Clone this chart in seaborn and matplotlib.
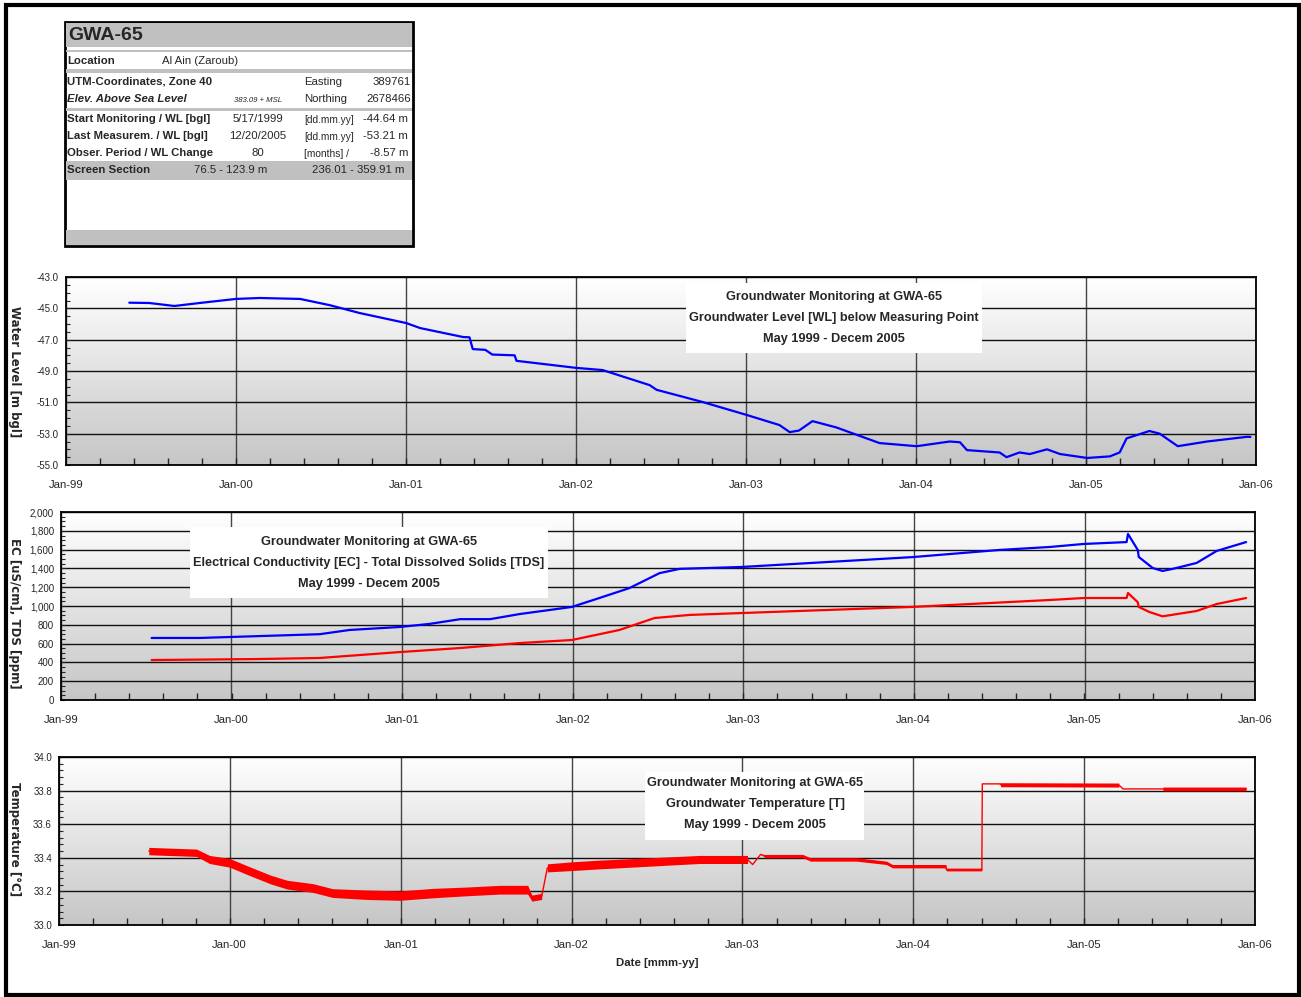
import numpy as np
import pandas as pd
import seaborn as sns
import matplotlib.pyplot as plt
import matplotlib.dates as mdates
from matplotlib.patches import Rectangle
from matplotlib.colors import LinearSegmentedColormap
from matplotlib.ticker import MultipleLocator, FixedLocator, FuncFormatter

# ---- data -------------------------------------------------------------
# water level [m bgl]
wl_dates = ['1999-05-17', '1999-06-29', '1999-08-22', '1999-10-15', '2000-01-01',
            '2000-02-21', '2000-05-18', '2000-07-21', '2000-09-23', '2001-01-01',
            '2001-01-31', '2001-05-03', '2001-05-17', '2001-05-24', '2001-06-20',
            '2001-07-05', '2001-08-22', '2001-08-26', '2002-01-01', '2002-02-27',
            '2002-06-08', '2002-06-23', '2002-09-30', '2003-01-02', '2003-03-14',
            '2003-04-05', '2003-04-25', '2003-05-24', '2003-07-14', '2003-10-15',
            '2004-01-03', '2004-03-14', '2004-04-05', '2004-04-20', '2004-06-29',
            '2004-07-14', '2004-08-11', '2004-09-02', '2004-10-09', '2004-11-06',
            '2005-01-03', '2005-02-21', '2005-03-14', '2005-03-29', '2005-05-17',
            '2005-06-08', '2005-07-17', '2005-09-18', '2005-12-13', '2005-12-20']
wl_values = [-44.64, -44.66, -44.85, -44.66, -44.40,
             -44.34, -44.40, -44.80, -45.30, -45.94,
             -46.26, -46.83, -46.85, -47.60, -47.65,
             -47.95, -48.00, -48.35, -48.80, -48.94,
             -49.90, -50.20, -50.98, -51.80, -52.45,
             -52.90, -52.80, -52.20, -52.60, -53.60,
             -53.80, -53.50, -53.55, -54.05, -54.20,
             -54.50, -54.20, -54.30, -54.00, -54.30,
             -54.55, -54.45, -54.20, -53.30, -52.83,
             -53.00, -53.80, -53.50, -53.20, -53.21]

# electrical conductivity [uS/cm]
ec_dates = ['1999-07-14', '1999-10-25', '2000-03-01', '2000-07-08', '2000-09-10',
            '2000-12-27', '2001-03-01', '2001-05-05', '2001-07-08', '2001-09-10',
            '2001-11-13', '2001-12-30', '2002-02-27', '2002-05-02', '2002-07-06',
            '2002-08-18', '2002-12-28', '2003-12-29', '2004-07-02', '2004-10-19',
            '2004-12-30', '2005-04-01', '2005-04-04', '2005-04-25', '2005-04-27',
            '2005-05-27', '2005-06-17', '2005-07-08', '2005-08-29', '2005-10-11',
            '2005-12-13']
ec_values = [660, 660, 680, 700, 745,
             777, 810, 860, 860, 915,
             958, 990, 1085, 1190, 1350,
             1395, 1415, 1520, 1596, 1628,
             1660, 1680, 1766, 1596, 1522,
             1404, 1373, 1394, 1458, 1586,
             1680]

# total dissolved solids [ppm]
tds_dates = ['1999-07-14', '2000-03-01', '2000-07-08', '2000-12-27', '2001-05-05',
             '2001-09-10', '2001-12-30', '2002-04-11', '2002-06-25', '2002-09-08',
             '2002-12-28', '2003-12-29', '2004-10-19', '2004-12-30', '2005-04-01',
             '2005-04-04', '2005-04-25', '2005-04-27', '2005-05-20', '2005-06-17',
             '2005-08-29', '2005-10-11', '2005-12-13']
tds_values = [425, 436, 447, 510, 553,
              606, 638, 745, 872, 905,
              925, 990, 1064, 1085, 1085,
              1138, 1040, 990, 936, 890,
              947, 1021, 1085]

# temperature [°C] and half-width of the logger scatter
t_dates = ['1999-07-12', '1999-10-22', '1999-11-19', '2000-01-01', '2000-02-13',
           '2000-03-29', '2000-05-03', '2000-06-27', '2000-08-08', '2000-10-20',
           '2000-12-30', '2001-03-11', '2001-05-22', '2001-07-31', '2001-09-29',
           '2001-10-08', '2001-10-29', '2001-10-29', '2001-11-10', '2001-11-10',
           '2002-01-01', '2002-03-01', '2002-10-01', '2003-01-12', '2003-01-12',
           '2003-01-23', '2003-02-09', '2003-02-20', '2003-05-10', '2003-05-27',
           '2003-09-02', '2003-11-05', '2003-11-18', '2004-03-11', '2004-03-12',
           '2004-05-27', '2004-05-27', '2004-05-28', '2004-07-06', '2004-07-06',
           '2005-03-16', '2005-03-16', '2005-03-25', '2005-06-18', '2005-06-18',
           '2005-12-13']
t_values = [33.44, 33.43, 33.39, 33.37, 33.32,
            33.27, 33.24, 33.22, 33.19, 33.18,
            33.175, 33.19, 33.20, 33.21, 33.21,
            33.16, 33.17, 33.17, 33.34, 33.34,
            33.35, 33.36, 33.39, 33.39, 33.39,
            33.36, 33.42, 33.41, 33.41, 33.39,
            33.39, 33.37, 33.35, 33.35, 33.33,
            33.33, 33.33, 33.84, 33.84, 33.835,
            33.833, 33.833, 33.81, 33.81, 33.81,
            33.81]
t_spread = [0.022, 0.022, 0.024, 0.026, 0.026,
            0.026, 0.026, 0.026, 0.026, 0.028,
            0.028, 0.028, 0.026, 0.026, 0.026,
            0.018, 0.018, 0.0, 0.0, 0.024,
            0.026, 0.026, 0.024, 0.024, 0.0,
            0.0, 0.0, 0.01, 0.01, 0.01,
            0.01, 0.01, 0.01, 0.01, 0.008,
            0.008, 0.0, 0.0, 0.0, 0.012,
            0.012, 0.0, 0.0, 0.0, 0.011,
            0.011]

year_ticks = pd.date_range('1999-01-01', '2006-01-01', freq='YS')
year_labels = [d.strftime('%b-%y') for d in year_ticks]

wl = pd.DataFrame({'date': pd.to_datetime(wl_dates), 'wl': wl_values})
ec = pd.DataFrame({'date': pd.to_datetime(ec_dates), 'ec': ec_values})
tds = pd.DataFrame({'date': pd.to_datetime(tds_dates), 'tds': tds_values})
temp = pd.DataFrame({'date': pd.to_datetime(t_dates), 't': t_values, 's': t_spread})

# ---- style ---------------------------------------------------------------
sns.set_style('white')
plt.rcParams['font.family'] = ['Liberation Sans', 'DejaVu Sans']
plt.rcParams['axes.linewidth'] = 1.3

W, H = 1301, 997
fig = plt.figure(figsize=(W / 100, H / 100), dpi=100)

grad = LinearSegmentedColormap.from_list('bg', ['#c6c6c6', '#ffffff'])


def ftext(x, y, s, **kw):
    fig.text(x / W, 1 - y / H, s, **kw)


def frect(x0, y0, x1, y1, **kw):
    fig.add_artist(Rectangle((x0 / W, 1 - y1 / H), (x1 - x0) / W, (y1 - y0) / H,
                             transform=fig.transFigure, **kw))


def make_axes(left, top, right, bottom, ylim, major, minor, fmt):
    ax = fig.add_axes([left / W, 1 - bottom / H, (right - left) / W, (bottom - top) / H])
    ax.imshow(np.linspace(0, 1, 256).reshape(-1, 1), cmap=grad, aspect='auto',
              extent=(0, 1, 0, 1), transform=ax.transAxes, zorder=0, origin='lower')
    ax.set_xlim(year_ticks[0], year_ticks[-1])
    ax.set_ylim(*ylim)
    ax.xaxis.set_major_locator(FixedLocator(mdates.date2num(year_ticks)))
    ax.set_xticklabels(year_labels)
    x0, x1 = mdates.date2num(year_ticks[[0, -1]])
    ax.xaxis.set_minor_locator(FixedLocator(np.linspace(x0, x1, 36)))
    ax.yaxis.set_major_locator(FixedLocator(np.arange(ylim[0], ylim[1] + major / 2, major)))
    ax.yaxis.set_minor_locator(MultipleLocator(minor))
    ax.yaxis.set_major_formatter(FuncFormatter(fmt))
    ax.grid(axis='y', which='major', color='#111111', lw=1.0)
    ax.grid(axis='x', which='major', color='#444444', lw=1.0)
    ax.tick_params(axis='x', which='both', direction='in', length=5, width=1,
                   labelsize=8.2, pad=11, bottom=True)
    ax.tick_params(axis='y', which='both', direction='in', length=3, width=0.8,
                   labelsize=7, pad=5, left=True)
    ax.tick_params(axis='x', which='major', length=0)
    for sp in ax.spines.values():
        sp.set_color('black')
    return ax


# ---- panel 1: water level ---------------------------------------------
ax1 = make_axes(66, 277, 1256, 465, (-55, -43), 2, 0.5, lambda v, p: f'{v:.1f}')
sns.lineplot(data=wl, x='date', y='wl', ax=ax1, color='#0000ff', lw=1.6,
             estimator=None, sort=False, zorder=3)
ax1.set_xlabel('')
ax1.set_ylabel('')

# ---- panel 2: EC / TDS --------------------------------------------------
ax2 = make_axes(61, 512, 1255, 700, (0, 2000), 200, 50, lambda v, p: f'{v:,.0f}')
sns.lineplot(data=ec, x='date', y='ec', ax=ax2, color='#0000ff', lw=1.6,
             estimator=None, sort=False, zorder=3)
sns.lineplot(data=tds, x='date', y='tds', ax=ax2, color='#ff0000', lw=1.6,
             estimator=None, sort=False, zorder=3)
ax2.set_xlabel('')
ax2.set_ylabel('')

# ---- panel 3: temperature -----------------------------------------------
ax3 = make_axes(59, 757, 1255, 925, (33.0, 34.0), 0.2, 0.04, lambda v, p: f'{v:.1f}')
ax3.fill_between(temp['date'], temp['t'] - temp['s'], temp['t'] + temp['s'],
                 color='#ff0000', lw=0, zorder=3)
sns.lineplot(data=temp, x='date', y='t', ax=ax3, color='#ff0000', lw=1.0,
             estimator=None, sort=False, zorder=3)
ax3.set_xlabel('')
ax3.set_ylabel('')

# ---- y axis titles --------------------------------------------------------
ylab_kw = dict(rotation=270, ha='center', va='center', fontsize=8.5,
               fontweight='bold', family='DejaVu Sans')
ftext(14, 372, 'Water Level [m bgl]', **ylab_kw)
ftext(14, 613, 'EC [uS/cm], TDS [ppm]', **ylab_kw)
ftext(14, 839, 'Temperature [°C]', **ylab_kw)
ftext(657, 963, 'Date [mmm-yy]', ha='center', va='center', fontsize=8.2,
      fontweight='bold')

# ---- chart title boxes ----------------------------------------------------
box_kw = dict(ha='center', va='center', fontsize=9.2, fontweight='bold')
frect(686, 283, 982, 353, fc='white', ec='none', zorder=5)
for yy, s in zip([297, 318, 339], ['Groundwater Monitoring at GWA-65',
                                   'Groundwater Level [WL] below Measuring Point',
                                   'May 1999 - Decem 2005']):
    ftext(834, yy, s, zorder=6, **box_kw)

frect(190, 527, 548, 598, fc='white', ec='none', zorder=5)
for yy, s in zip([542, 563, 584], ['Groundwater Monitoring at GWA-65',
                                   'Electrical Conductivity [EC] - Total Dissolved Solids [TDS]',
                                   'May 1999 - Decem 2005']):
    ftext(369, yy, s, zorder=6, **box_kw)

frect(645, 772, 864, 840, fc='white', ec='none', zorder=5)
for yy, s in zip([783, 804, 825], ['Groundwater Monitoring at GWA-65',
                                   'Groundwater Temperature [T]',
                                   'May 1999 - Decem 2005']):
    ftext(755, yy, s, zorder=6, **box_kw)

# ---- info box -------------------------------------------------------------
gray = '#c0c0c0'
frect(65, 22, 413, 246, fc='white', ec='black', lw=2, zorder=5)
frect(66, 23, 412, 47, fc=gray, ec='none', zorder=5)
frect(66, 50, 412, 52.5, fc=gray, ec='none', zorder=5)
frect(66, 69.5, 412, 73, fc=gray, ec='none', zorder=5)
frect(66, 108, 412, 111, fc=gray, ec='none', zorder=5)
frect(66, 161, 412, 180, fc=gray, ec='none', zorder=5)
frect(66, 230, 412, 245, fc=gray, ec='none', zorder=5)

ik = dict(va='center', zorder=6, fontsize=8.2)
ftext(68, 35, 'GWA-65', va='center', zorder=6, fontsize=14, fontweight='bold')
ftext(67, 61, 'Location', fontweight='bold', **ik)
ftext(162, 61, 'Al Ain (Zaroub)', **ik)
ftext(67, 82, 'UTM-Coordinates, Zone 40', fontweight='bold', **ik)
ftext(304, 82, 'Easting', **ik)
ftext(411, 82, '389761', ha='right', **ik)
ftext(67, 99, 'Elev. Above Sea Level', fontweight='bold', style='italic', **ik)
ftext(234, 100, '383.09 + MSL', style='italic', va='center', zorder=6, fontsize=5.6)
ftext(304, 99, 'Northing', **ik)
ftext(411, 99, '2678466', ha='right', **ik)

rows = [(119, 'Start Monitoring / WL [bgl]', '5/17/1999', '[dd.mm.yy]', '-44.64 m'),
        (136, 'Last Measurem. / WL [bgl]', '12/20/2005', '[dd.mm.yy]', '-53.21 m'),
        (153, 'Obser. Period / WL Change', '80', '[months] /', '-8.57 m')]
for yy, lab, val, unit, wlv in rows:
    ftext(67, yy, lab, fontweight='bold', **ik)
    ftext(258, yy, val, ha='center', **ik)
    ftext(304, yy + 1, unit, va='center', zorder=6, fontsize=7.3)
    ftext(408, yy, wlv, ha='right', **ik)

ftext(67, 170, 'Screen Section', fontweight='bold', **ik)
ftext(231, 170, '76.5 - 123.9 m', ha='center', **ik)
ftext(358, 170, '236.01 - 359.91 m', ha='center', **ik)

# ---- outer frame ----------------------------------------------------------
frect(5.5, 5, 1298.5, 995, fc='none', ec='black', lw=3, zorder=10)

fig.savefig('out.png', dpi=100)
